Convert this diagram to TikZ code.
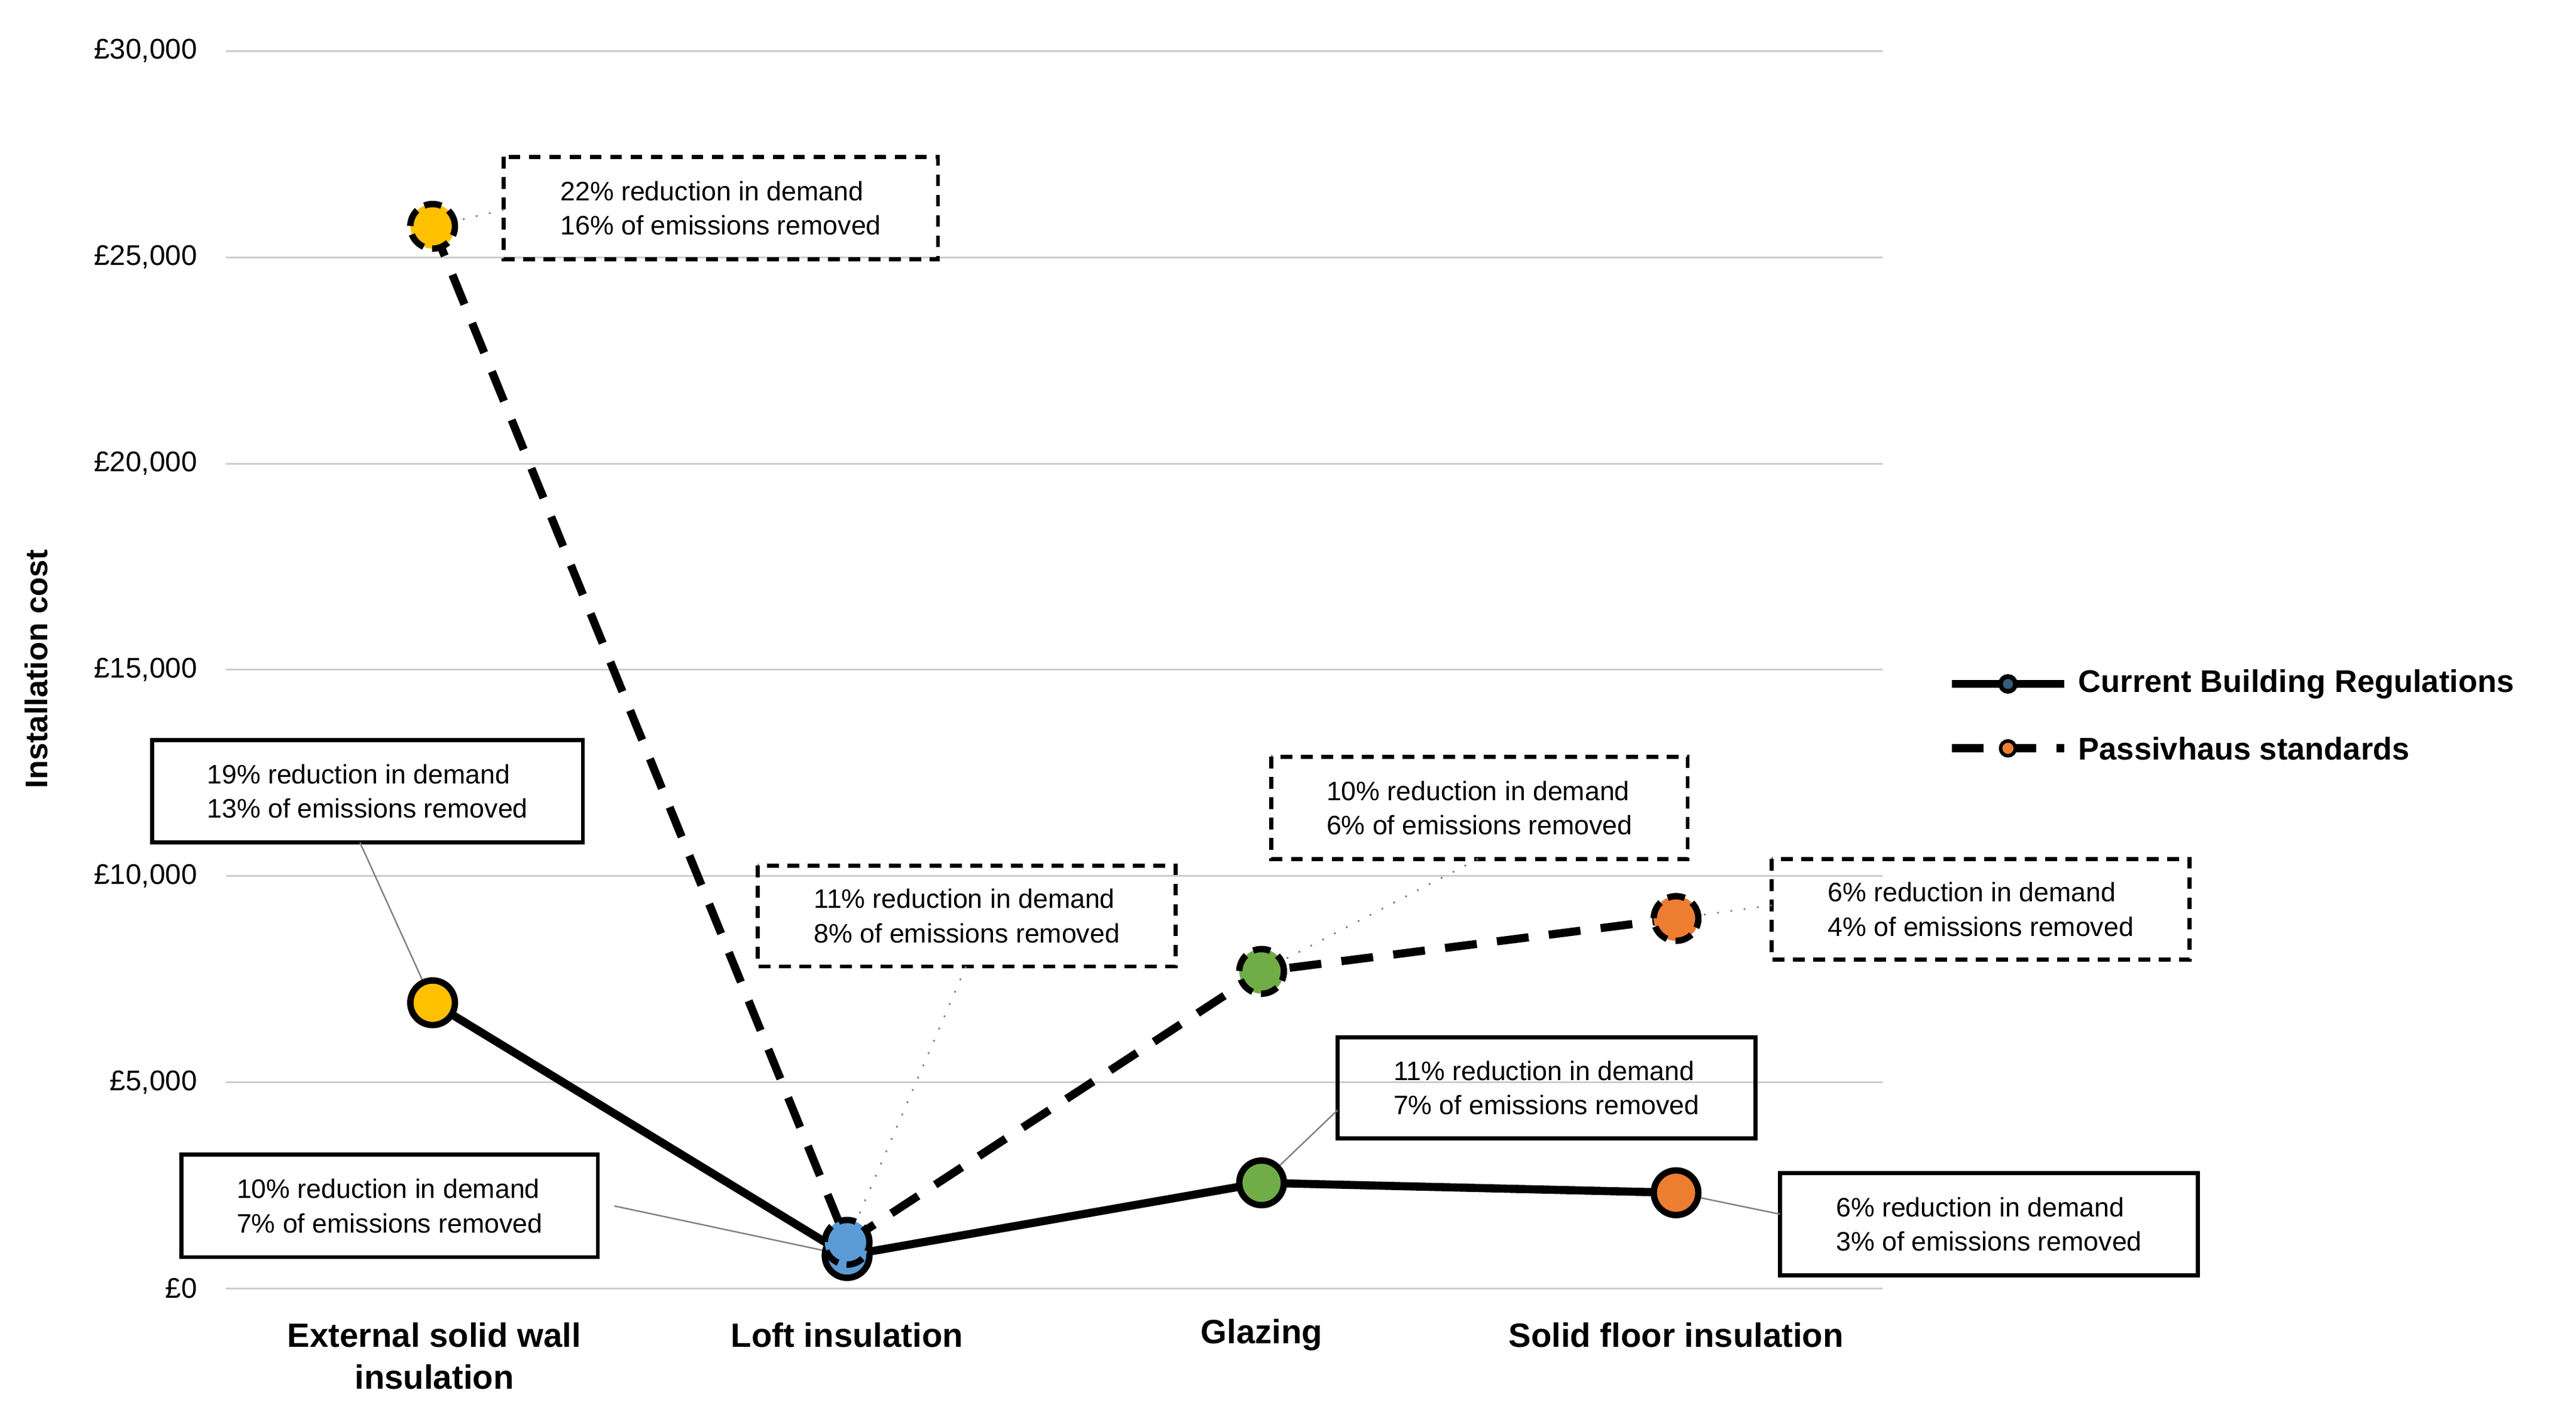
\documentclass[tikz,border=0pt]{standalone}
\usepackage{fontspec}
\setmainfont{Liberation Sans}
\begin{document}
\begin{tikzpicture}[x=0.01cm,y=-0.01cm,
  lbl/.style={font=\fontsize{4.6pt}{5.9pt}\selectfont,align=left,inner sep=0},
  sbox/.style={draw,line width=0.7pt},
  dbox/.style={draw,line width=0.7pt,dash pattern=on 2pt off 1.5pt},
  lead/.style={gray,line width=0.25pt},
  dlead/.style={gray,line width=0.3pt,dotted},
  mk/.style={circle,draw=black,line width=1.1pt,minimum size=0.27cm,inner sep=0},
  dmk/.style={mk,dash pattern=on 3pt off 1.5pt},
  tick/.style={font=\fontsize{4.9pt}{6pt}\selectfont,anchor=east,inner sep=0},
  cat/.style={font=\bfseries\fontsize{5.8pt}{7.2pt}\selectfont,align=center,inner sep=0},
  leg/.style={font=\bfseries\fontsize{5.4pt}{6.5pt}\selectfont,anchor=west,inner sep=0},
  main/.style={line width=1.4pt},
  dmain/.style={line width=1.4pt,dash pattern=on 5.5pt off 3.5pt}]
\definecolor{cy}{HTML}{FFC000}\definecolor{cb}{HTML}{5B9BD5}
\definecolor{cg}{HTML}{70AD47}\definecolor{co}{HTML}{ED7D31}
\useasboundingbox (0,0) rectangle (1560,860);
% grid
\foreach \v/\t in {0/{£0},5/{£5,000},10/{£10,000},15/{£15,000},20/{£20,000},25/{£25,000},30/{£30,000}}{
  \draw[gray!40,line width=0.3pt] (137,{780-24.97*\v}) -- (1140,{780-24.97*\v});
  \node[tick] (t\v) at (120,{780-24.97*\v}) {\t};}
\node[font=\bfseries\fontsize{5.4pt}{6.5pt}\selectfont,rotate=90] (yt) at (22,405) {Installation cost};
% categories
\node[cat] (c1) at (263,821) {External solid wall\\insulation};
\node[cat] (c2) at (513,808) {Loft insulation};
\node[cat] (c3) at (764,808) {Glazing};
\node[cat] (c4) at (1015,808) {Solid floor insulation};
% series
\coordinate (s1) at (262,607); \coordinate (s2) at (513,760);
\coordinate (s3) at (764,716); \coordinate (s4) at (1015,722);
\coordinate (p1) at (262,137); \coordinate (p2) at (513,752);
\coordinate (p3) at (764,588); \coordinate (p4) at (1015,556);
\draw[main] (s1) -- (s2) -- (s3) -- (s4);
\draw[dmain] (p1) -- (p2) -- (p3) -- (p4);
% boxes
\node[lbl] (b1) at (436.5,126) {22\% reduction in demand\\16\% of emissions removed};
\draw[dbox] (305,95) rectangle (568,157);
\node[lbl] (b2) at (222.5,479) {19\% reduction in demand\\13\% of emissions removed};
\draw[sbox] (92,448) rectangle (353,510);
\node[lbl] (b3) at (585.5,554.5) {11\% reduction in demand\\8\% of emissions removed};
\draw[dbox] (459,524) rectangle (712,585);
\node[lbl] (b4) at (896,489) {10\% reduction in demand\\6\% of emissions removed};
\draw[dbox] (770,458) rectangle (1022,520);
\node[lbl] (b5) at (1199.5,550.5) {6\% reduction in demand\\4\% of emissions removed};
\draw[dbox] (1073,520) rectangle (1326,581);
\node[lbl] (b6) at (936.5,658.5) {11\% reduction in demand\\7\% of emissions removed};
\draw[sbox] (810,628) rectangle (1063,689);
\node[lbl] (b7) at (236,730) {10\% reduction in demand\\7\% of emissions removed};
\draw[sbox] (110,699) rectangle (362,761);
\node[lbl] (b8) at (1204.5,741) {6\% reduction in demand\\3\% of emissions removed};
\draw[sbox] (1078,710) rectangle (1331,772);
% leaders
\draw[dlead] (305,127) -- (p1);
\draw[lead] (218,510) -- (s1);
\draw[dlead] (585,585) -- (p2);
\draw[dlead] (895,520) -- (p3);
\draw[dlead] (1073,548) -- (p4);
\draw[lead] (810,672) -- (s3);
\draw[lead] (372,730) -- (s2);
\draw[lead] (1078,735) -- (s4);
% markers
\node[mk,fill=cy] (m1) at (s1) {}; \node[mk,fill=cb] (m2) at (s2) {};
\node[mk,fill=cg] (m3) at (s3) {}; \node[mk,fill=co] (m4) at (s4) {};
\node[dmk,fill=cy] (n1) at (p1) {}; \node[dmk,fill=cb] (n2) at (p2) {};
\node[dmk,fill=cg] (n3) at (p3) {}; \node[dmk,fill=co] (n4) at (p4) {};
% legend
\coordinate (l1a) at (1182,414); \coordinate (l1b) at (1250,414);
\draw[main] (l1a) -- (l1b);
\node[circle,draw=black,fill=cb!60!black,line width=0.8pt,minimum size=0.09cm,inner sep=0] (lm1) at (1216,414) {};
\node[leg] (lt1) at (1258,414) {Current Building Regulations};
\coordinate (l2a) at (1182,453); \coordinate (l2b) at (1250,453);
\draw[dmain] (l2a) -- (l2b);
\node[circle,draw=black,fill=co,line width=0.6pt,minimum size=0.09cm,inner sep=0] (lm2) at (1216,453) {};
\node[leg] (lt2) at (1258,453) {Passivhaus standards};
\end{tikzpicture}
\end{document}
